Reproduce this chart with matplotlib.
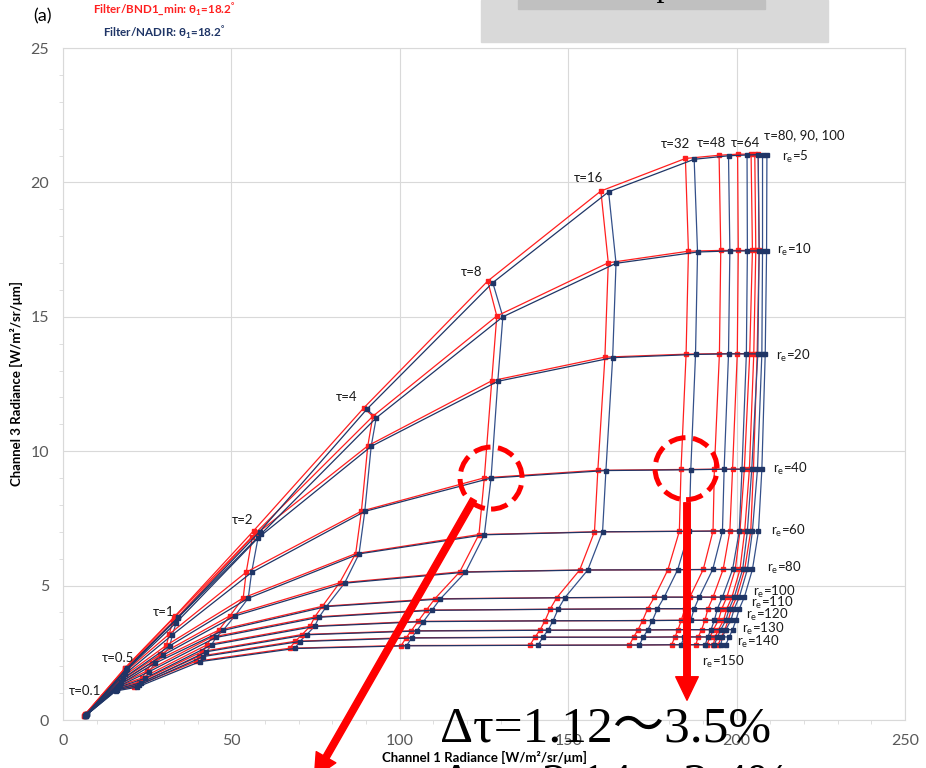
import numpy as np
import matplotlib.pyplot as plt
from matplotlib.patches import Ellipse, Rectangle, FancyArrowPatch
from matplotlib.ticker import MultipleLocator

plt.rcParams['font.family'] = ['Lato', 'Noto Sans', 'DejaVu Sans']

# optical thickness (columns) and effective radius (rows) of the LUT
tau = [0.1, 0.5, 1, 2, 4, 8, 16, 32, 48, 64, 80, 90, 100]
re = [5, 10, 20, 40, 60, 80, 100, 110, 120, 130, 140, 150]

# Filter/NADIR: channel 1 radiance, rows = re, cols = tau
nadir_ch1 = [
    [7.0, 19.0, 34.2, 58.4, 90.2, 127.6, 162.0, 187.4, 197.6, 203.1, 206.4, 207.7, 209.0],
    [7.0, 19.0, 34.0, 58.9, 93.0, 130.6, 164.2, 188.4, 198.0, 203.2, 206.7, 207.7, 208.9],
    [7.0, 18.8, 33.6, 57.9, 91.5, 129.1, 163.2, 187.8, 197.6, 202.9, 206.3, 207.5, 208.5],
    [6.9, 18.3, 32.5, 56.0, 89.6, 127.1, 161.2, 186.4, 196.3, 201.6, 204.5, 206.2, 207.5],
    [6.9, 17.9, 31.7, 55.0, 87.9, 125.1, 160.2, 185.9, 195.8, 200.8, 203.2, 204.7, 206.5],
    [6.8, 17.3, 29.8, 51.0, 83.6, 119.5, 155.8, 182.5, 192.9, 198.8, 201.8, 203.2, 204.7],
    [6.8, 16.8, 27.3, 47.5, 78.2, 112.0, 149.0, 178.5, 188.9, 195.8, 199.3, 200.8, 202.3],
    [6.7, 16.5, 25.6, 45.4, 76.0, 109.5, 147.0, 176.5, 187.4, 194.3, 197.8, 199.3, 200.8],
    [6.7, 16.3, 24.3, 44.1, 74.7, 107.0, 145.5, 175.0, 186.4, 193.4, 196.8, 198.3, 199.8],
    [6.7, 16.1, 23.3, 42.6, 72.3, 105.0, 144.0, 173.6, 185.4, 192.4, 195.3, 196.8, 198.8],
    [6.6, 15.9, 22.6, 41.6, 70.3, 103.5, 142.5, 172.3, 184.5, 191.4, 194.3, 195.8, 197.8],
    [6.6, 15.7, 22.0, 40.6, 68.8, 102.0, 141.0, 171.1, 183.5, 190.7, 193.4, 195.3, 196.8],
]
# Filter/NADIR: channel 3 radiance
nadir_ch3 = [
    [0.22, 1.93, 3.82, 7.01, 11.56, 16.27, 19.65, 20.86, 20.99, 21.02, 21.03, 21.03, 21.03],
    [0.22, 1.91, 3.78, 6.93, 11.24, 15.00, 16.99, 17.41, 17.45, 17.45, 17.45, 17.45, 17.45],
    [0.21, 1.85, 3.62, 6.77, 10.18, 12.60, 13.48, 13.60, 13.62, 13.62, 13.62, 13.62, 13.62],
    [0.20, 1.70, 3.17, 5.49, 7.76, 9.00, 9.28, 9.31, 9.33, 9.33, 9.33, 9.33, 9.33],
    [0.19, 1.55, 2.76, 4.53, 6.18, 6.89, 7.00, 7.02, 7.03, 7.03, 7.03, 7.03, 7.03],
    [0.18, 1.42, 2.42, 3.87, 5.09, 5.50, 5.58, 5.59, 5.60, 5.60, 5.60, 5.60, 5.60],
    [0.17, 1.32, 2.11, 3.33, 4.22, 4.50, 4.55, 4.57, 4.57, 4.57, 4.57, 4.57, 4.57],
    [0.17, 1.26, 1.80, 3.07, 3.82, 4.08, 4.12, 4.14, 4.14, 4.14, 4.14, 4.14, 4.14],
    [0.16, 1.21, 1.55, 2.79, 3.48, 3.66, 3.69, 3.70, 3.71, 3.71, 3.71, 3.71, 3.71],
    [0.16, 1.16, 1.39, 2.54, 3.17, 3.31, 3.34, 3.35, 3.36, 3.36, 3.36, 3.36, 3.36],
    [0.15, 1.12, 1.30, 2.36, 2.92, 3.05, 3.08, 3.08, 3.09, 3.09, 3.09, 3.09, 3.09],
    [0.15, 1.08, 1.22, 2.17, 2.66, 2.76, 2.78, 2.79, 2.80, 2.80, 2.80, 2.80, 2.80],
]
# Filter/BND1_min: channel 1 radiance
bnd1_ch1 = [
    [6.7, 18.5, 33.2, 56.6, 89.3, 126.1, 159.7, 184.8, 194.8, 200.3, 204.3, 205.4, 206.4],
    [6.7, 18.5, 33.0, 57.2, 92.0, 128.8, 161.9, 185.7, 195.3, 200.5, 204.7, 205.7, 206.7],
    [6.7, 18.3, 32.6, 56.2, 90.5, 127.3, 160.9, 185.0, 194.9, 200.2, 203.9, 205.1, 206.1],
    [6.6, 17.8, 31.5, 54.4, 88.6, 125.1, 158.8, 183.5, 193.4, 198.8, 202.3, 203.8, 205.0],
    [6.6, 17.4, 30.7, 53.5, 86.9, 123.5, 157.8, 183.0, 193.0, 198.0, 201.0, 202.4, 204.2],
    [6.5, 16.8, 28.9, 49.6, 82.1, 117.8, 153.4, 179.6, 190.1, 196.0, 199.6, 201.0, 202.4],
    [6.5, 16.3, 26.4, 46.2, 77.0, 110.4, 146.6, 175.6, 186.1, 193.0, 197.1, 198.6, 200.0],
    [6.4, 16.0, 24.8, 44.1, 74.7, 107.9, 144.6, 173.6, 184.6, 191.5, 195.6, 197.1, 198.5],
    [6.4, 15.8, 23.5, 42.8, 73.4, 105.4, 143.1, 172.1, 183.6, 190.6, 194.6, 196.1, 197.5],
    [6.4, 15.6, 22.5, 41.4, 71.0, 103.4, 141.6, 170.7, 182.6, 189.6, 193.1, 194.6, 196.5],
    [6.3, 15.4, 21.8, 40.4, 69.0, 101.9, 140.1, 169.4, 181.7, 188.6, 192.1, 193.6, 195.5],
    [6.3, 15.2, 21.2, 39.4, 67.3, 100.4, 138.6, 168.2, 180.7, 187.9, 191.2, 193.1, 194.5],
]
# Filter/BND1_min: channel 3 radiance
bnd1_ch3 = [
    [0.23, 1.95, 3.86, 7.04, 11.61, 16.33, 19.68, 20.89, 21.01, 21.05, 21.05, 21.05, 21.05],
    [0.23, 1.93, 3.81, 6.96, 11.30, 15.03, 17.01, 17.44, 17.47, 17.47, 17.47, 17.47, 17.47],
    [0.22, 1.87, 3.65, 6.80, 10.20, 12.62, 13.50, 13.61, 13.63, 13.63, 13.63, 13.63, 13.63],
    [0.21, 1.72, 3.19, 5.50, 7.77, 9.01, 9.29, 9.32, 9.33, 9.33, 9.33, 9.33, 9.33],
    [0.20, 1.57, 2.78, 4.54, 6.19, 6.90, 7.00, 7.02, 7.03, 7.03, 7.03, 7.03, 7.03],
    [0.19, 1.44, 2.44, 3.88, 5.10, 5.51, 5.58, 5.59, 5.60, 5.60, 5.60, 5.60, 5.60],
    [0.18, 1.34, 2.13, 3.34, 4.23, 4.51, 4.55, 4.57, 4.57, 4.57, 4.57, 4.57, 4.57],
    [0.18, 1.28, 1.82, 3.08, 3.83, 4.09, 4.12, 4.14, 4.14, 4.14, 4.14, 4.14, 4.14],
    [0.17, 1.23, 1.57, 2.80, 3.49, 3.67, 3.69, 3.70, 3.71, 3.71, 3.71, 3.71, 3.71],
    [0.17, 1.18, 1.41, 2.55, 3.18, 3.32, 3.34, 3.35, 3.36, 3.36, 3.36, 3.36, 3.36],
    [0.16, 1.14, 1.32, 2.37, 2.93, 3.06, 3.08, 3.08, 3.09, 3.09, 3.09, 3.09, 3.09],
    [0.16, 1.10, 1.24, 2.18, 2.67, 2.77, 2.78, 2.79, 2.80, 2.80, 2.80, 2.80, 2.80],
]

# label positions (data coords)
tau_labels = [('τ=0.1', 6.5, 1.08), ('τ=0.5', 16.3, 2.31), ('τ=1', 30.0, 4.02),
              ('τ=2', 53.4, 7.44), ('τ=4', 84.3, 12.02), ('τ=8', 121.4, 16.67),
              ('τ=16', 155.9, 20.16), ('τ=32', 181.7, 21.43), ('τ=48', 192.4, 21.47),
              ('τ=64', 202.5, 21.47), ('τ=80, 90, 100', 220.0, 21.76)]
re_label_pos = [(213.5, 20.95), (212.0, 17.49), (211.7, 13.54), (210.8, 9.34),
                (210.2, 7.03), (209.0, 5.65), (204.9, 4.78), (204.3, 4.36),
                (202.8, 3.92), (201.6, 3.40), (200.1, 2.90), (189.7, 2.16)]

W, H = 926, 768
fig = plt.figure(figsize=(W / 100, H / 100), dpi=100)
ax = fig.add_axes([63 / W, 48 / H, 842 / W, 672 / H])

RED = '#ff1f1f'
NAVY = '#1f3566'
NAVY_COL = '#34508a'

def draw_lut(x, y, row_color, col_color, mcolor):
    x = np.array(x)
    y = np.array(y)
    for j in range(x.shape[1]):
        ax.plot(x[:, j], y[:, j], color=col_color, lw=0.9, zorder=2)
    for i in range(x.shape[0]):
        ax.plot(x[i], y[i], color=row_color, lw=0.9, marker='s', ms=2.8,
                mfc=mcolor, mec=mcolor, zorder=3)

draw_lut(bnd1_ch1, bnd1_ch3, RED, RED, RED)
draw_lut(nadir_ch1, nadir_ch3, NAVY, NAVY_COL, NAVY)

ax.set_xlim(0, 250)
ax.set_ylim(0, 25)
ax.xaxis.set_major_locator(MultipleLocator(50))
ax.xaxis.set_minor_locator(MultipleLocator(10))
ax.yaxis.set_major_locator(MultipleLocator(5))
ax.yaxis.set_minor_locator(MultipleLocator(1))
ax.grid(True, which='major', color='#d9d9d9', lw=0.8)
ax.set_axisbelow(True)
for s in ax.spines.values():
    s.set_color('#d9d9d9')
    s.set_linewidth(0.8)
ax.tick_params(which='both', direction='out', color='#d9d9d9', labelcolor='#595959',
               labelsize=11.5)
ax.tick_params(which='major', length=0, pad=10)
ax.tick_params(which='minor', length=3)

ax.set_xlabel('Channel 1 Radiance [W/m²/sr/μm]', fontsize=9.5, fontweight='bold', labelpad=2)
ax.set_ylabel('Channel 3 Radiance [W/m²/sr/μm]', fontsize=9.5, fontweight='bold', labelpad=5)

for txt, tx, ty in tau_labels:
    ax.text(tx, ty, txt, fontsize=9.5, ha='center', va='center', color='#1a1a1a')
for r, (tx, ty) in zip(re, re_label_pos):
    ax.text(tx, ty, 'r$_\\mathregular{e}$=%d' % r, fontsize=9.5, ha='left', va='center',
            color='#1a1a1a')

# header
fig.text(42 / W, 1 - 16 / H, '(a)', fontsize=13, ha='center', va='center')
fig.text(164 / W, 1 - 9 / H, 'Filter/BND1_min: θ$_\\mathregular{1}$=18.2$^\\mathregular{°}$',
         fontsize=8.4, fontweight='bold', color='#ff2020', ha='center', va='center')
fig.text(164 / W, 1 - 32 / H, 'Filter/NADIR: θ$_\\mathregular{1}$=18.2$^\\mathregular{°}$',
         fontsize=8.4, fontweight='bold', color='#1f3566', ha='center', va='center')

# grey title box at top edge
fig.add_artist(Rectangle((481 / W, 1 - 42 / H), 347 / W, 42 / H, transform=fig.transFigure,
                         color='#d9d9d9', zorder=5))
fig.add_artist(Rectangle((518 / W, 1 - 9 / H), 247 / W, 9 / H, transform=fig.transFigure,
                         color='#c0c0c0', zorder=6))
fig.text(641 / W, 1 - 3 / H, 'LUT comparison', fontsize=23, ha='center', va='bottom',
         family=['Liberation Serif'], color='black', zorder=7)

# highlighted points: tau=8 and tau=32 at re=40
for (cx, cy) in [(nadir_ch1[3][5], nadir_ch3[3][5]), (185.0, 9.35)]:
    ax.add_patch(Ellipse((cx, cy), 62 / 3.368, 62 / 26.88, fill=False, ec='#ff0000',
                         lw=3.6, ls=(0, (3.4, 1.5)), zorder=6, clip_on=False))

arrow_kw = dict(arrowstyle='simple,head_width=1.25,head_length=1.3,tail_width=0.36',
                color='#ff0000', mutation_scale=13, zorder=7)
fig.add_artist(FancyArrowPatch((475 / W, 1 - 497 / H), (313 / W, 1 - 780 / H),
                               transform=fig.transFigure, **arrow_kw))
fig.add_artist(FancyArrowPatch((687 / W, 1 - 500 / H), (687 / W, 1 - 703 / H),
                               transform=fig.transFigure, **arrow_kw))

big = dict(family=['Liberation Serif', 'Noto Sans CJK JP'], fontsize=37, color='black',
           zorder=8)
fig.text(440 / W, 1 - 741 / H, 'Δτ=1.12～3.5%', ha='left', va='baseline', **big)
fig.text(440 / W, 1 - 798 / H, 'Δre=2.14～2.4%', ha='left', va='baseline', **big)

fig.savefig('out.png', dpi=100)
